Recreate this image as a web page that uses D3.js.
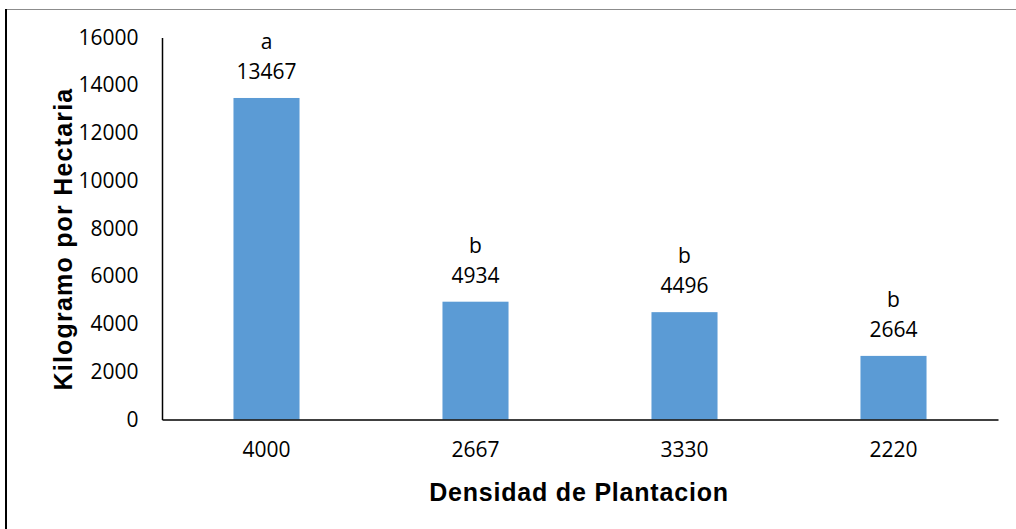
<!DOCTYPE html>
<meta charset="utf-8">
<style>

body {
  margin: 0;
  background: #fff;
}

.axis path {
  stroke: #000;
  stroke-width: 1.5px;
}

.axis text {
  font-family: "Open Sans", sans-serif;
  font-size: 21px;
  fill: #000;
}

.title {
  font-family: "Liberation Sans", Arial, sans-serif;
  font-weight: bold;
  font-size: 25px;
  fill: #000;
}

.lbl {
  font-family: "Open Sans", sans-serif;
  font-size: 21px;
  fill: #000;
}

</style>
<svg></svg>
<script src="https://cdn.jsdelivr.net/npm/d3@7/dist/d3.min.js"></script>
<script>

var categories = ["4000", "2667", "3330", "2220"],
    values = [13467, 4934, 4496, 2664],
    letters = ["a", "b", "b", "b"],
    yTicks = [0, 2000, 4000, 6000, 8000, 10000, 12000, 14000, 16000];

var width = 1016,
    height = 529;

var svg = d3.select("svg")
    .attr("width", width)
    .attr("height", height);

// outer frame: grey top edge and heavy left edge, the rest is cropped away
svg.append("line")
    .attr("x1", 6).attr("x2", width)
    .attr("y1", 9.5).attr("y2", 9.5)
    .attr("stroke", "#8c8c8c")
    .attr("stroke-width", 1.2);

svg.append("line")
    .attr("x1", 6).attr("x2", 6)
    .attr("y1", 9).attr("y2", height)
    .attr("stroke", "#000")
    .attr("stroke-width", 2);

var x = d3.scaleBand()
    .domain(categories)
    .range([162, 998])
    .padding(0);

var y = d3.scaleLinear()
    .domain([0, 16000])
    .range([419.5, 37.5]);

var barW = x.bandwidth() * 0.316;

svg.append("g")
    .attr("class", "axis")
    .attr("transform", "translate(162,0)")
    .call(d3.axisLeft(y)
        .tickValues(yTicks)
        .tickFormat(d3.format("d"))
        .tickSize(0)
        .tickPadding(23.5));

svg.selectAll(".bar")
    .data(values)
  .enter().append("rect")
    .attr("class", "bar")
    .attr("x", function(d, i) { return x(categories[i]) + (x.bandwidth() - barW) / 2; })
    .attr("y", function(d) { return y(d); })
    .attr("width", barW)
    .attr("height", function(d) { return y(0) - y(d); })
    .attr("fill", "#5b9bd5");

svg.append("g")
    .attr("class", "axis")
    .attr("transform", "translate(0,419.5)")
    .call(d3.axisBottom(x)
        .tickSize(0)
        .tickPadding(23));

svg.selectAll(".val")
    .data(values)
  .enter().append("text")
    .attr("class", "lbl")
    .attr("text-anchor", "middle")
    .attr("x", function(d, i) { return x(categories[i]) + x.bandwidth() / 2; })
    .attr("y", function(d) { return y(d) - 19; })
    .text(function(d) { return d; });

svg.selectAll(".let")
    .data(letters)
  .enter().append("text")
    .attr("class", "lbl")
    .attr("text-anchor", "middle")
    .attr("x", function(d, i) { return x(categories[i]) + x.bandwidth() / 2; })
    .attr("y", function(d, i) { return y(values[i]) - 49; })
    .text(function(d) { return d; });

svg.append("text")
    .attr("class", "title")
    .attr("text-anchor", "middle")
    .attr("letter-spacing", "0.8px")
    .attr("x", 579)
    .attr("y", 501)
    .text("Densidad de Plantacion");

svg.append("text")
    .attr("class", "title")
    .attr("text-anchor", "middle")
    .attr("letter-spacing", "1.2px")
    .attr("transform", "translate(72,239) rotate(-90)")
    .text("Kilogramo por Hectaria");

</script>
